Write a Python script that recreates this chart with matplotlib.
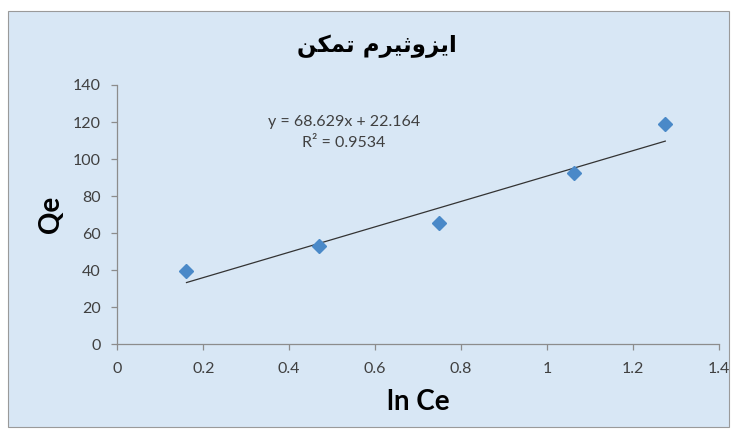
import matplotlib
matplotlib.use("Agg")
import matplotlib.pyplot as plt
from matplotlib.patches import Rectangle
import numpy as np

# data
ln_ce = [0.161, 0.470, 0.749, 1.062, 1.275]
qe = [39.5, 53.0, 65.6, 92.3, 118.8]

# trendline reported on the chart
slope = 68.629
intercept = 22.164
r2 = 0.9534

x_ticks = [0, 0.2, 0.4, 0.6, 0.8, 1.0, 1.2, 1.4]
x_tick_labels = ["0", "0.2", "0.4", "0.6", "0.8", "1", "1.2", "1.4"]
y_ticks = [0, 20, 40, 60, 80, 100, 120, 140]

# Persian title, pre-shaped (presentation forms in visual order) since matplotlib does no shaping
title_logical = "ایزوثیرم تمکن"
title_visual = "\uFEE6\uFB91\uFEE4\uFE97 \uFEE1\uFEAE\uFBFF\uFE9B\uFEED\uFEB0\uFBFE\uFE8D"

bg = "#d8e7f5"
text_col = "#404040"
axis_col = "#8c8c8c"
W, H = 737, 436

fig = plt.figure(figsize=(W / 100, H / 100), dpi=100)
fig.patch.set_facecolor("white")

# chart frame
frame = Rectangle((8 / W, 1 - 427 / H), (729 - 8) / W, (427 - 11) / H,
                  transform=fig.transFigure, facecolor=bg, edgecolor="#9a9a9a",
                  linewidth=0.8, zorder=-10)
fig.patches.append(frame)

ax = fig.add_axes([117.3 / W, 1 - 344 / H, (719 - 117.3) / W, (344 - 85) / H])
ax.set_facecolor("none")
ax.set_zorder(5)

ax.plot(ln_ce, qe, linestyle="none", marker="D", markersize=7.5,
        color="#4a89c8", zorder=3)

# linear trendline across the data range
xl = np.array([min(ln_ce), max(ln_ce)])
ax.plot(xl, slope * xl + intercept, color="#333333", linewidth=0.9, zorder=2)

ax.set_xlim(0, 1.4)
ax.set_ylim(0, 140)
ax.set_xticks(x_ticks)
ax.set_xticklabels(x_tick_labels)
ax.set_yticks(y_ticks)

for side in ["top", "right"]:
    ax.spines[side].set_visible(False)
for side in ["left", "bottom"]:
    ax.spines[side].set_color(axis_col)
    ax.spines[side].set_linewidth(0.9)

ax.tick_params(axis="both", direction="out", length=4, width=0.9, color=axis_col,
               labelcolor=text_col, labelsize=11.5)
ax.tick_params(axis="y", pad=8)
ax.tick_params(axis="x", pad=9)
for lab in ax.get_xticklabels() + ax.get_yticklabels():
    lab.set_fontfamily("Lato")

fig.text(344 / W, 1 - 122 / H, f"y = {slope}x + {intercept}",
         ha="center", va="center", fontsize=11.5, family="Lato", color=text_col)
fig.text(344 / W, 1 - 143 / H, f"R² = {r2}",
         ha="center", va="center", fontsize=11.5, family="Lato", color=text_col)

fig.text(51 / W, 1 - 214 / H, "Qe", rotation=90, ha="center", va="center",
         fontsize=20, fontweight="bold", family="Lato", color="black")
fig.text(418 / W, 1 - 402 / H, "ln Ce", ha="center", va="center",
         fontsize=20, fontweight="bold", family="Lato", color="black")
fig.text(377 / W, 1 - 46 / H, title_visual, ha="center", va="center",
         fontsize=16.5, fontweight="bold", family=["DejaVu Sans"], color="black")

fig.savefig("out.png", dpi=100, facecolor=fig.get_facecolor())
